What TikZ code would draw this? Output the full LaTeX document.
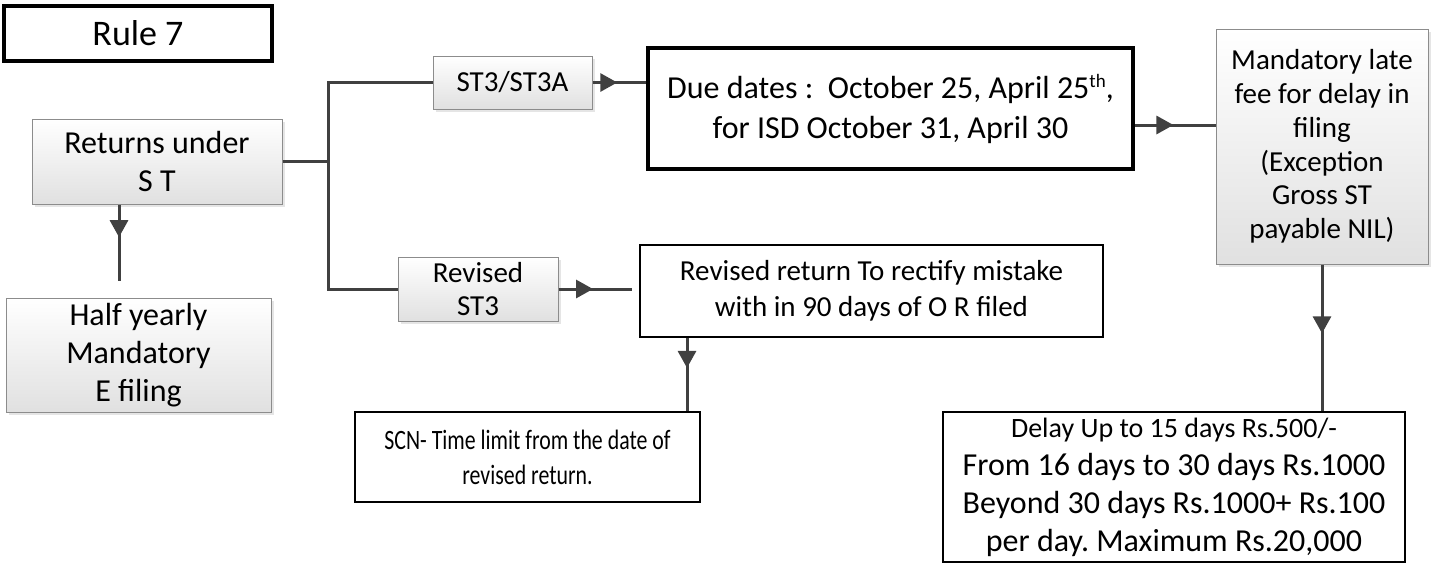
\documentclass[tikz,border=0pt]{standalone}
\usepackage{fontspec}
\setmainfont{Carlito}
\newfontfamily\narrowfont[FakeStretch=0.78]{Carlito}
\usetikzlibrary{arrows.meta,decorations.markings,shadows,calc}
\definecolor{connc}{HTML}{404040}
\frenchspacing
\begin{document}
\begin{tikzpicture}[x=1pt,y=-1pt,
  graybox/.style={draw=black!45, line width=1pt, top color=white, bottom color=black!12,
    drop shadow={shadow xshift=3pt, shadow yshift=-3pt, fill=black!10, opacity=1},
    inner sep=0pt, align=center},
  whitebox/.style={draw=black, line width=2pt, fill=white, inner sep=0pt, align=center},
  thickbox/.style={whitebox, line width=3.2pt},
  conn/.style={draw=connc, line width=3pt},
  midarrow/.style={postaction={decorate}, decoration={markings,
    mark=at position #1 with {\arrow[connc]{Triangle[length=17pt,width=18pt]}}}},
  f32/.style={font=\fontsize{32}{38}\selectfont},
  f29/.style={font=\fontsize{29}{34}\selectfont}]
\useasboundingbox (0,0) rectangle (1447,563);

% nodes
\node[thickbox, minimum width=268pt, minimum height=55pt, font=\fontsize{36}{43}\selectfont] (rule) at (138,33.5) {Rule 7};
\node[graybox, f32, minimum width=250pt, minimum height=85pt] (ret) at (157,161.5) {Returns under\\S T};
\node[graybox, f32, minimum width=265pt, minimum height=114pt] (half) at (138.5,355) {Half yearly\\Mandatory\\E filing};
\node[graybox, f29, minimum width=159pt, minimum height=53pt] (st3) at (512.5,82.5) {ST3/ST3A};
\node[graybox, f29, minimum width=160pt, minimum height=64pt, font=\fontsize{29}{33}\selectfont] (rev) at (478,289) {Revised\\ST3};
\node[thickbox, minimum width=485pt, minimum height=121pt, font=\fontsize{32}{40}\selectfont] (due) at (890.5,108.5)
  {Due dates :\ \ October 25, April 25\raisebox{11pt}{\fontsize{19}{19}\selectfont th},\\for ISD October 31, April 30};
\node[graybox, minimum width=212pt, minimum height=235pt, font=\fontsize{29}{33.7}\selectfont] (mand) at (1322,146.5)
  {Mandatory late\\fee for delay in\\filing\\(Exception\\Gross ST\\payable NIL)};
\node[whitebox, minimum width=463pt, minimum height=92pt, font=\fontsize{29}{36}\selectfont] (rr) at (871.5,291)
  {Revised return To rectify mistake\\with in 90 days of O R filed};
\node[whitebox, minimum width=345pt, minimum height=90pt, font=\narrowfont\fontsize{28}{35}\selectfont] (scn) at (527.5,457)
  {SCN- Time limit from the date of\\revised return.};
\node[whitebox, minimum width=462pt, minimum height=150pt, font=\fontsize{32}{38}\selectfont] (delay) at (1174,487)
  {{\fontsize{28}{38}\selectfont Delay Up to 15 days Rs.500/-}\\From 16 days to 30 days Rs.1000\\Beyond 30 days Rs.1000+ Rs.100\\per day. Maximum Rs.20,000};

% connectors
\coordinate (jx) at (328,0);
\coordinate (dy) at (0,125);
\coordinate (ax) at (687,0);
\draw[conn] (ret.east) -- (ret.east -| jx);
\draw[conn] (st3.west) -- (st3.west -| jx) -- (rev.west -| jx) -- (rev.west);
\draw[conn, midarrow=0.43] ([xshift=-38pt]ret.south) -- ([xshift=-19.5pt,yshift=17pt]half.north);
\draw[conn, midarrow=0.46] (st3.east) -- (st3.east -| due.west);
\draw[conn, midarrow=0.48] (due.east |- dy) -- (mand.west |- dy);
\draw[conn, midarrow=0.47] (rev.east) -- ([xshift=-7pt]rev.east -| rr.west);
\draw[conn, midarrow=0.41] (rr.south -| ax) -- (scn.north -| ax);
\draw[conn, midarrow=0.47] (mand.south) -- (mand.south |- delay.north);
\end{tikzpicture}
\end{document}
